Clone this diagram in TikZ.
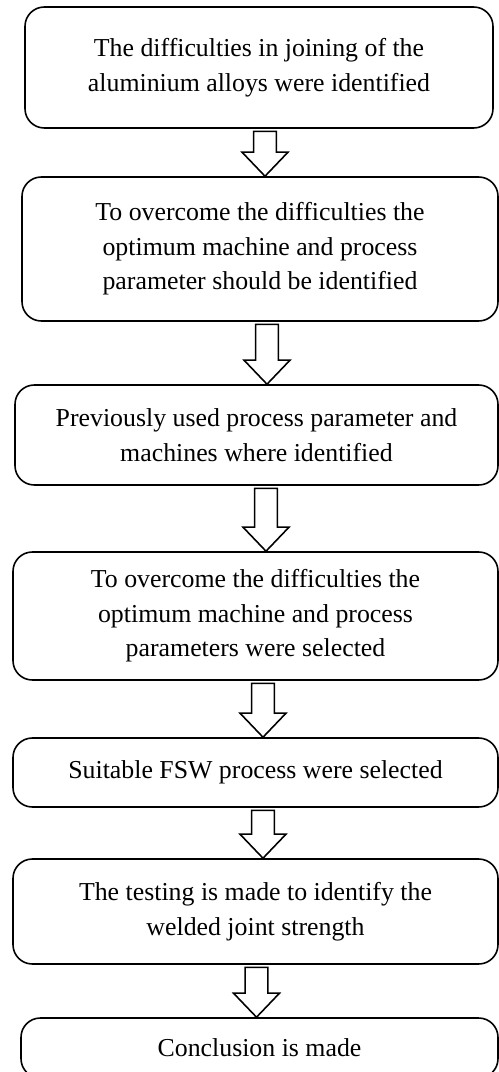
\documentclass[tikz,border=0pt]{standalone}
\usepackage{fontspec}
\setmainfont{Liberation Serif}
\usetikzlibrary{calc}

% hollow block arrow from the bottom of one box to the top of the next
\newcommand{\hollowdown}[3]{%
  \path (#3,0) coordinate (axis);
  \draw[hollow] let \p0=(axis), \p1=(#1.south), \p2=(#2.north) in
    (\x0-6.5pt,\y1-1.5pt) -- (\x0-6.5pt,\y2+13.7pt) -- (\x0-13.1pt,\y2+13.7pt)
    -- (\x0,\y2) -- (\x0+13.1pt,\y2+13.7pt) -- (\x0+6.5pt,\y2+13.7pt)
    -- (\x0+6.5pt,\y1-1.5pt) -- cycle;
}

\begin{document}
\begin{tikzpicture}[x=0.02cm,y=-0.02cm,
  stepbox/.style={draw,line width=0.9pt,rounded corners=11pt,align=center,
    inner sep=0pt,font=\fontsize{14.7}{19.6}\selectfont},
  hollow/.style={draw,line width=0.9pt,fill=white}]
  \useasboundingbox (0,0) rectangle (499,1072);
  \node[stepbox,minimum width=468*0.02cm,minimum height=121*0.02cm] (identify) at (259,67.5)
    {The difficulties in joining of the\\aluminium alloys were identified};
  \node[stepbox,minimum width=476*0.02cm,minimum height=144*0.02cm] (optimum) at (260,249)
    {To overcome the difficulties the\\optimum machine and process\\parameter should be identified};
  \node[stepbox,minimum width=483*0.02cm,minimum height=100*0.02cm] (previous) at (256.5,435)
    {Previously used process parameter and\\machines where identified};
  \node[stepbox,minimum width=485*0.02cm,minimum height=128*0.02cm] (selected) at (255.5,616)
    {To overcome the difficulties the\\optimum machine and process\\parameters were selected};
  \node[stepbox,minimum width=485*0.02cm,minimum height=69*0.02cm] (fsw) at (255.5,772.5)
    {Suitable FSW process were selected};
  \node[stepbox,minimum width=485*0.02cm,minimum height=105*0.02cm] (testing) at (255.5,911.5)
    {The testing is made to identify the\\welded joint strength};
  \node[stepbox,minimum width=477*0.02cm,minimum height=60*0.02cm] (conclusion) at (259.5,1048)
    {Conclusion is made};
  \hollowdown{identify}{optimum}{265}
  \hollowdown{optimum}{previous}{267}
  \hollowdown{previous}{selected}{266}
  \hollowdown{selected}{fsw}{263}
  \hollowdown{fsw}{testing}{263}
  \hollowdown{testing}{conclusion}{256.5}
\end{tikzpicture}
\end{document}
